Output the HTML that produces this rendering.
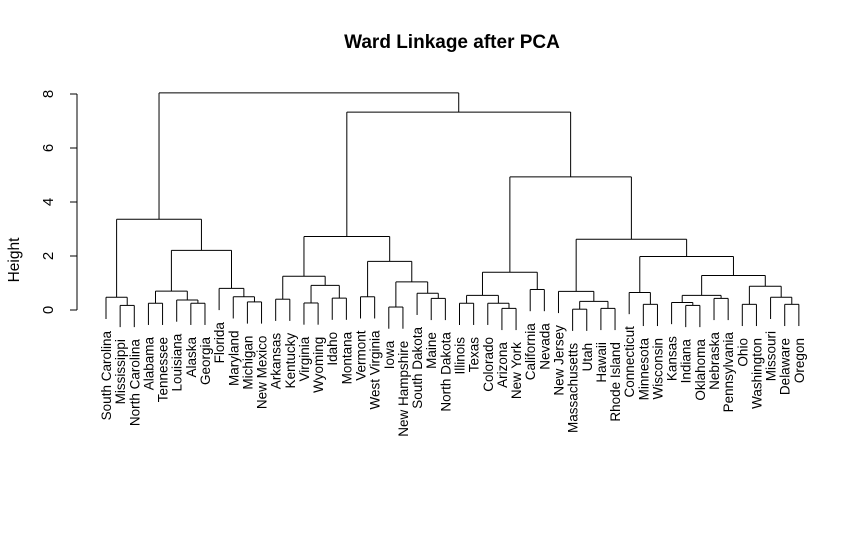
<!DOCTYPE html>
<html><head><meta charset="utf-8"><style>
html,body{margin:0;padding:0;background:#fff;}
svg{display:block;font-family:"Liberation Sans",Arial,sans-serif;}
</style></head><body>
<svg id="chart" width="868" height="540">
<text x="452" y="48" text-anchor="middle" font-size="19" font-weight="bold">Ward Linkage after PCA</text>
<text transform="translate(19,260) rotate(-90)" text-anchor="middle" font-size="15.5">Height</text>
<g id="axis"></g>
<g id="tree"></g>
<g id="labels"></g>
</svg>
<script>
const leaves = ["South Carolina","Mississippi","North Carolina","Alabama","Tennessee","Louisiana","Alaska","Georgia","Florida","Maryland","Michigan","New Mexico","Arkansas","Kentucky","Virginia","Wyoming","Idaho","Montana","Vermont","West Virginia","Iowa","New Hampshire","South Dakota","Maine","North Dakota","Illinois","Texas","Colorado","Arizona","New York","California","Nevada","New Jersey","Massachusetts","Utah","Hawaii","Rhode Island","Connecticut","Minnesota","Wisconsin","Kansas","Indiana","Oklahoma","Nebraska","Pennsylvania","Ohio","Washington","Missouri","Delaware","Oregon"];
const mergeLeft  = [-2,-1,-4,-7,-6,3,-11,-10,-9,6,2,-13,-15,-17,13,12,-19,-21,-24,-23,18,17,16,-26,-29,-28,24,-31,27,-34,-36,30,-33,-39,-38,-42,-41,-44,37,-46,-49,-48,40,39,35,33,29,23,11];
const mergeRight = [-3,1,-5,-8,4,5,-12,7,8,9,10,-14,-16,-18,14,15,-20,-22,-25,19,20,21,22,-27,-30,25,26,-32,28,-35,-37,31,32,-40,34,-43,36,-45,38,-47,-50,41,42,43,44,45,46,47,48];
const mergeHeight = [0.17,0.47,0.25,0.25,0.37,0.70,0.30,0.49,0.80,2.21,3.36,0.40,0.26,0.44,0.91,1.25,0.49,0.11,0.43,0.62,1.04,1.80,2.72,0.25,0.06,0.25,0.54,0.76,1.40,0.03,0.06,0.32,0.69,0.21,0.65,0.17,0.28,0.43,0.54,0.21,0.21,0.47,0.88,1.28,1.98,2.62,4.93,7.33,8.04];
const yTicks = [0,2,4,6,8];

const NS="http://www.w3.org/2000/svg";
const X0=106, DX=14.14, Y0=310, PX=27;
const hang = 0.1*Math.max(...mergeHeight);
const xs = i => X0 + i*DX;
const ys = h => Y0 - h*PX;
function mk(tag, attrs, parent){const e=document.createElementNS(NS,tag);for(const k in attrs)e.setAttribute(k,attrs[k]);parent.appendChild(e);return e;}

const axis=document.getElementById('axis');
let ln=mk('line',{x1:77,x2:77,y1:ys(yTicks[0]),y2:ys(yTicks[yTicks.length-1]),stroke:'#000'},axis);


yTicks.forEach(t=>{
  const tk=mk('line',{x1:70,x2:77,y1:ys(t),y2:ys(t),stroke:'#000'},axis);
  
  
  const tl=mk('text',{transform:`translate(53,${ys(t)}) rotate(-90)`,'text-anchor':'middle','font-size':15},axis);
  tl.textContent=t;
  
  
});

const tree=document.getElementById('tree');
const labels=document.getElementById('labels');
const mx=[];
function node(ref){
  if(ref<0){const i=-ref-1;return {x:xs(i),y:null,leaf:i};}
  return {x:mx[ref-1],y:ys(mergeHeight[ref-1]),leaf:-1};
}
for(let k=0;k<mergeHeight.length;k++){
  const a=node(mergeLeft[k]), b=node(mergeRight[k]);
  const h=mergeHeight[k], y=ys(h);
  mx.push((a.x+b.x)/2);
  [a,b].forEach(c=>{
    let yb=c.y;
    if(c.leaf>=0){
      yb=ys(h-hang);
      const t=mk('text',{transform:`translate(${c.x+5},${yb+12}) rotate(-90)`,'text-anchor':'end','font-size':13.5},labels);
      t.textContent=leaves[c.leaf];
      
      
    }
    const v=mk('line',{x1:c.x,x2:c.x,y1:yb,y2:y,stroke:'#000','stroke-width':1},tree);
    
    
  });
  const hl=mk('line',{x1:a.x,x2:b.x,y1:y,y2:y,stroke:'#000','stroke-width':1},tree);
  
  
}
</script>
</body></html>
